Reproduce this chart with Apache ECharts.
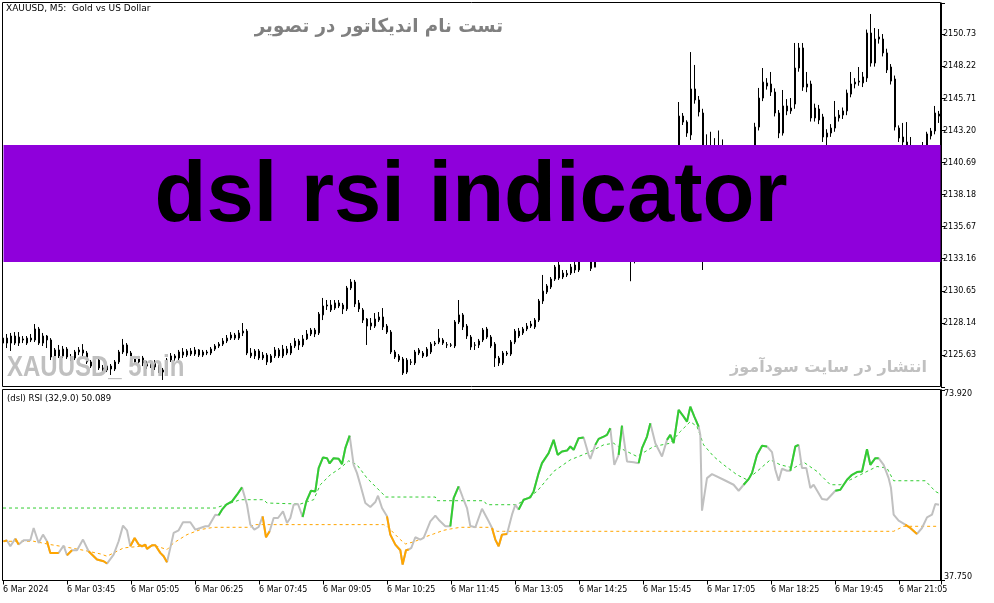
<!DOCTYPE html>
<html><head><meta charset="utf-8">
<script src="https://cdn.jsdelivr.net/npm/echarts@6/dist/echarts.min.js"></script>
<style>html,body{margin:0;padding:0;background:#fff}#c{width:994px;height:603px}</style>
</head><body><div id="c"></div>
<script>
// ---- X axis tick labels (every 16 bars of 5 min) ----
const timeLabels = ['6 Mar 2024','6 Mar 03:45','6 Mar 05:05','6 Mar 06:25','6 Mar 07:45','6 Mar 09:05','6 Mar 10:25','6 Mar 11:45','6 Mar 13:05','6 Mar 14:25','6 Mar 15:45','6 Mar 17:05','6 Mar 18:25','6 Mar 19:45','6 Mar 21:05'];
const priceTicks = ['2125.63','2128.14','2130.65','2133.16','2135.67','2138.18','2140.69','2143.20','2145.71','2148.22','2150.73'];
const rsiTicks = ['73.920','37.750'];

// ---- XAUUSD M5 candles ----
const opens = [
2126.56,2126.95,2126.56,2127.11,2126.56,2126.88,2126.56,2126.95,2126.80,2127.66,
2126.56,2127.11,2126.80,2125.47,2126.02,2125.55,2126.09,2125.47,2125.39,2125.86,
2126.02,2125.78,2125.08,2124.76,2125.23,2124.61,2124.45,2124.76,2124.53,2125.08,
2125.86,2126.41,2125.78,2125.39,2125.08,2125.39,2125.00,2124.76,2125.08,2124.69,
2124.45,2124.29,2125.23,2125.55,2125.39,2125.86,2125.62,2125.94,2125.70,2126.02,
2125.62,2125.86,2125.78,2126.09,2126.33,2126.48,2126.72,2126.95,2127.19,2126.95,
2127.35,2127.50,2125.78,2125.55,2125.94,2125.39,2125.62,2125.08,2125.55,2126.02,
2125.55,2126.09,2125.78,2126.33,2126.72,2126.41,2126.88,2127.27,2127.58,2127.35,
2128.76,2129.46,2129.54,2129.30,2129.70,2129.54,2129.23,2130.87,2131.34,2129.70,
2129.15,2128.44,2128.13,2127.89,2128.36,2128.60,2127.89,2127.42,2125.86,2125.55,
2125.31,2124.29,2125.08,2125.00,2125.78,2125.78,2125.55,2125.86,2126.48,2126.64,
2126.80,2126.41,2126.41,2126.33,2128.21,2128.76,2127.89,2127.03,2126.41,2126.41,
2126.80,2127.66,2127.03,2126.48,2125.39,2125.00,2125.78,2125.70,2126.64,2127.50,
2127.35,2127.66,2127.89,2127.82,2128.36,2129.85,2130.56,2130.95,2131.57,2132.67,
2131.73,2131.89,2132.04,2132.67,2132.28,2133.50,2135.50,2135.00,2132.50,2134.80,
2136.20,2137.50,2138.60,2139.30,2137.00,2138.20,2139.80,2137.60,2137.30,2137.80,
2137.60,2139.00,2140.10,2141.00,2139.80,2138.90,2138.20,2139.50,2139.20,2140.60,
2144.33,2143.86,2142.85,2146.45,2145.59,2144.57,2133.40,2138.60,2138.20,2137.90,
2137.60,2137.30,2137.00,2136.80,2136.40,2136.00,2137.20,2138.50,2141.50,2143.47,
2145.74,2146.92,2146.84,2146.21,2144.57,2143.00,2145.12,2144.73,2145.27,2148.09,
2149.66,2146.84,2146.84,2144.18,2144.88,2144.26,2142.69,2143.00,2143.39,2144.18,
2144.41,2144.73,2146.05,2146.84,2146.99,2146.92,2147.31,2150.83,2148.48,2150.52,
2150.36,2149.27,2148.17,2147.23,2143.39,2142.69,2142.30,2141.30,2141.00,2140.80,
2141.20,2141.00,2142.77,2143.16,2144.49];
const closes = [
2126.95,2126.56,2127.11,2126.56,2127.03,2126.80,2126.95,2126.80,2127.66,2126.56,
2127.11,2126.80,2125.47,2126.02,2125.55,2126.09,2125.47,2125.39,2125.86,2126.02,
2125.78,2125.08,2124.76,2125.23,2124.61,2124.45,2124.76,2124.53,2125.08,2125.86,
2126.41,2125.78,2125.39,2125.08,2125.39,2125.00,2124.76,2125.08,2124.69,2124.45,
2124.29,2125.23,2125.55,2125.39,2125.86,2125.62,2125.94,2125.70,2126.02,2125.62,
2125.86,2125.78,2126.09,2126.33,2126.48,2126.72,2126.95,2127.19,2126.95,2127.35,
2127.50,2125.78,2125.55,2125.94,2125.39,2125.62,2125.08,2125.55,2126.02,2125.55,
2126.09,2125.78,2126.33,2126.72,2126.41,2126.88,2127.27,2127.58,2127.27,2128.83,
2129.46,2129.54,2129.15,2129.70,2129.46,2129.23,2130.87,2131.34,2129.62,2129.23,
2128.36,2127.89,2127.89,2128.44,2128.60,2127.82,2127.42,2125.86,2125.47,2125.23,
2124.22,2125.23,2125.06,2125.86,2126.02,2125.55,2126.09,2126.48,2126.56,2126.95,
2126.56,2126.43,2126.39,2128.21,2128.76,2127.82,2127.11,2126.25,2126.39,2126.72,
2127.58,2127.03,2126.33,2125.39,2125.00,2125.78,2125.70,2126.64,2127.50,2127.11,
2127.66,2127.89,2128.05,2128.36,2129.85,2130.63,2131.03,2131.57,2132.51,2131.65,
2132.04,2132.02,2132.51,2132.28,2133.45,2135.50,2135.00,2132.40,2134.80,2136.20,
2137.50,2138.60,2139.30,2137.00,2138.20,2139.80,2137.60,2137.30,2137.80,2137.60,
2139.00,2140.10,2141.00,2139.80,2138.90,2138.20,2139.50,2139.20,2140.60,2144.33,
2143.86,2143.00,2146.45,2145.59,2144.65,2133.40,2138.60,2138.20,2137.90,2137.60,
2137.30,2137.00,2136.80,2136.40,2136.00,2137.20,2138.50,2141.50,2143.47,2145.74,
2146.99,2146.68,2146.21,2144.57,2143.00,2145.12,2144.73,2144.96,2148.09,2149.66,
2146.60,2146.60,2144.18,2144.96,2144.02,2142.69,2143.00,2143.39,2144.26,2144.41,
2144.73,2146.13,2146.84,2146.99,2147.07,2147.39,2150.83,2148.48,2150.36,2150.36,
2149.27,2147.94,2147.07,2143.47,2142.61,2142.30,2141.30,2141.00,2140.80,2141.20,
2141.00,2142.93,2143.16,2144.57,2144.33];
const lows = [
2126.33,2126.17,2125.94,2126.41,2126.33,2126.56,2126.41,2126.64,2126.64,2126.41,
2126.33,2126.17,2125.23,2125.31,2125.39,2125.39,2125.31,2125.15,2125.23,2125.62,
2125.55,2124.92,2124.61,2124.61,2124.45,2124.22,2124.29,2124.06,2124.37,2124.92,
2125.70,2125.55,2125.15,2124.92,2124.84,2124.76,2124.53,2124.61,2124.45,2124.22,
2123.67,2124.14,2125.08,2125.15,2125.23,2125.39,2125.47,2125.55,2125.55,2125.47,
2125.47,2125.62,2125.62,2125.94,2126.17,2126.33,2126.56,2126.80,2126.80,2126.80,
2127.11,2125.62,2125.39,2125.31,2125.23,2125.23,2124.84,2125.00,2125.39,2125.39,
2125.39,2125.62,2125.62,2126.17,2126.02,2126.25,2126.80,2127.11,2127.03,2127.19,
2128.36,2129.15,2128.99,2129.15,2129.30,2128.83,2129.07,2130.71,2129.38,2128.99,
2128.13,2126.41,2127.58,2127.74,2128.21,2127.58,2127.27,2125.70,2125.31,2125.08,
2124.06,2124.14,2124.84,2124.84,2125.62,2125.39,2125.47,2125.70,2126.33,2126.48,
2126.41,2126.17,2126.25,2126.17,2128.05,2127.58,2126.88,2126.02,2126.02,2126.17,
2126.64,2126.88,2126.17,2124.69,2124.76,2124.84,2125.55,2125.55,2126.48,2126.95,
2127.19,2127.50,2127.74,2127.66,2128.21,2129.62,2130.40,2130.79,2131.42,2131.50,
2131.57,2131.73,2131.89,2132.04,2132.12,2133.20,2134.20,2132.20,2132.50,2134.20,
2135.80,2137.00,2138.20,2136.60,2136.80,2138.00,2137.20,2131.40,2132.80,2137.00,
2137.20,2138.60,2139.60,2139.40,2138.50,2137.80,2138.00,2138.80,2139.00,2140.40,
2143.63,2142.70,2142.46,2145.30,2144.30,2132.28,2133.00,2137.40,2137.20,2136.80,
2136.60,2136.40,2136.00,2135.80,2135.50,2135.80,2137.00,2138.20,2141.00,2143.20,
2145.50,2146.40,2145.90,2144.30,2142.60,2142.80,2144.40,2144.50,2144.90,2147.80,
2146.30,2146.20,2143.90,2143.90,2143.70,2142.30,2141.67,2142.70,2143.10,2143.90,
2144.10,2144.40,2145.80,2146.50,2146.70,2146.60,2147.00,2148.20,2148.20,2150.00,
2149.00,2147.70,2146.80,2143.20,2142.30,2142.00,2140.90,2140.60,2140.30,2140.50,
2140.60,2140.80,2142.50,2142.90,2143.79];
const highs = [
2127.19,2127.27,2127.35,2127.42,2127.42,2127.11,2127.11,2127.27,2128.05,2127.82,
2127.35,2127.19,2126.95,2126.17,2126.41,2126.33,2126.25,2125.70,2126.02,2126.25,
2126.48,2125.94,2125.23,2125.39,2125.39,2124.84,2124.92,2124.92,2125.23,2126.02,
2126.88,2126.56,2125.94,2125.55,2125.55,2125.55,2125.15,2125.23,2125.23,2124.84,
2124.61,2125.39,2125.78,2125.70,2126.02,2126.17,2126.09,2126.17,2126.25,2126.09,
2126.02,2126.02,2126.25,2126.48,2126.64,2126.95,2127.19,2127.42,2127.35,2127.58,
2128.13,2127.66,2126.17,2126.09,2126.09,2125.86,2125.78,2125.70,2126.25,2126.17,
2126.41,2126.33,2126.56,2126.95,2126.88,2127.19,2127.58,2127.74,2127.74,2128.99,
2130.09,2129.93,2129.93,2129.93,2129.93,2129.70,2131.03,2131.57,2131.50,2129.93,
2129.30,2128.52,2128.52,2128.91,2128.99,2129.30,2128.05,2127.58,2126.02,2125.70,
2125.47,2125.39,2125.31,2126.02,2126.17,2125.94,2126.25,2126.64,2126.72,2127.66,
2126.95,2126.64,2126.56,2128.36,2129.93,2128.91,2128.05,2127.19,2126.64,2126.88,
2127.74,2127.82,2127.19,2126.64,2125.55,2125.94,2125.94,2126.80,2127.66,2127.74,
2127.82,2128.13,2128.29,2128.52,2130.01,2131.89,2131.18,2131.73,2132.67,2132.91,
2132.28,2132.28,2132.75,2132.91,2133.69,2136.00,2136.50,2135.40,2135.20,2136.80,
2138.00,2139.20,2140.00,2139.60,2138.60,2140.30,2140.00,2138.20,2138.40,2138.30,
2139.40,2140.60,2141.40,2141.30,2140.20,2139.30,2139.90,2140.10,2141.00,2145.43,
2144.57,2144.00,2149.34,2148.33,2145.90,2144.90,2142.90,2143.10,2142.60,2143.20,
2142.50,2138.20,2137.80,2137.40,2137.00,2137.60,2139.00,2141.90,2143.80,2146.53,
2148.09,2147.30,2147.78,2146.50,2144.80,2146.37,2145.66,2145.74,2150.05,2150.05,
2150.05,2147.78,2147.10,2145.30,2145.20,2144.50,2143.30,2143.70,2145.51,2144.80,
2145.00,2146.40,2147.78,2147.30,2148.17,2147.78,2151.10,2152.32,2151.22,2151.14,
2150.75,2149.60,2148.40,2147.50,2143.60,2143.79,2143.86,2142.69,2141.50,2141.60,
2142.30,2143.10,2143.40,2145.12,2144.73];

// ---- DSL RSI (32, 9.0): vertices (bar index, value) ----
const rsiX = [0.16,1.0,1.83,3.08,3.91,5.16,6.83,7.66,8.91,10.0,
11.0,11.83,13.91,15.16,16.0,17.25,18.5,20.0,21.4,23.5,
25.16,26.0,27.66,28.91,30.0,31.0,31.83,32.91,33.91,34.75,
35.58,36.0,37.25,38.08,39.33,40.16,41.0,41.83,42.66,43.91,
45.0,46.83,48.08,49.33,50.58,51.41,53.08,53.91,54.75,55.83,
57.25,58.5,59.75,61.0,61.83,62.83,63.91,64.91,65.75,66.66,
67.66,68.75,70.0,71.0,71.83,72.66,73.75,74.91,75.83,77.0,
78.08,78.91,80.0,81.0,81.66,82.66,83.91,84.75,85.58,86.66,
87.66,88.5,89.33,90.58,91.83,93.08,93.75,94.75,96.0,96.83,
98.08,99.33,99.91,100.75,101.41,102.08,103.08,104.33,105.16,106.83,
108.08,108.91,110.58,111.83,112.66,113.91,115.0,116.0,116.83,118.08,
119.75,121.41,122.25,123.08,123.91,124.75,126.0,127.25,128.08,128.91,
130.16,131.83,132.66,133.91,134.75,136.41,137.66,138.66,139.75,141.0,
141.83,142.66,143.91,145.16,146.41,146.83,148.08,148.91,150.16,151.0,
151.83,152.83,153.91,154.75,156.0,157.66,158.91,159.75,161.0,161.83,
163.08,164.75,166.0,166.83,167.66,168.91,170.16,171.0,171.83,172.83,
173.91,174.33,174.75,176.0,177.25,180.16,182.66,183.91,185.16,186.41,
187.25,188.5,189.75,191.0,192.25,193.08,193.91,194.75,196.0,196.83,
198.08,198.91,199.75,200.83,201.83,202.66,204.75,206.0,208.08,209.33,
211.0,212.25,213.5,214.75,216.0,216.83,218.08,218.91,220.16,221.41,
222.0,222.66,223.91,225.58,226.83,228.5,229.75,231.0,232.25,233.08,
234.0];
const rsiY = [45.20,45.33,44.25,45.70,44.57,45.39,45.39,47.72,44.88,46.46,
45.20,42.99,42.99,44.38,42.55,43.49,43.49,45.52,43.31,41.73,
41.41,40.97,42.68,45.20,48.17,47.28,44.25,45.83,44.57,44.25,
44.57,43.75,44.44,44.44,42.99,42.36,41.22,43.94,46.78,47.28,
48.80,48.80,47.41,47.72,48.04,48.04,50.25,50.12,51.20,52.14,
52.77,54.04,55.43,52.14,48.36,47.41,47.91,49.93,45.96,47.09,
49.62,49.62,50.88,48.67,49.62,52.14,52.27,49.81,52.77,54.79,
54.67,59.09,61.11,60.98,59.97,60.98,60.85,59.84,62.87,65.27,
59.72,58.14,55.93,52.46,51.70,52.65,53.85,51.51,49.93,46.46,
44.57,43.49,40.78,43.49,43.62,43.94,45.96,45.52,45.83,48.99,
50.06,49.30,48.04,48.04,53.41,55.61,53.41,51.51,48.10,47.85,
51.38,48.99,47.72,45.52,44.25,46.46,46.59,50.25,52.14,51.20,
53.09,53.53,54.67,58.14,60.03,61.93,64.45,61.61,62.24,62.43,
63.19,62.56,64.77,64.89,61.61,60.85,63.50,64.64,65.08,65.40,
66.66,59.72,61.61,67.17,60.35,60.22,60.03,62.87,65.08,67.61,
63.82,61.30,64.45,65.40,63.82,70.13,68.87,67.92,70.76,68.87,
66.98,65.40,51.01,57.19,57.95,56.88,55.93,54.79,55.93,57.00,
58.14,61.61,63.32,63.19,62.12,58.77,56.69,58.96,58.58,58.58,
63.19,63.50,59.09,59.09,55.30,55.93,53.22,53.09,54.79,54.98,
56.88,57.82,58.33,58.46,62.68,59.72,60.98,60.98,59.72,57.19,
55.30,50.25,49.12,48.36,47.72,46.59,47.72,49.74,50.25,52.27,
52.14];
// stretches of the RSI line drawn green (above upper level) / orange (below lower level)
const greenRanges = [[53.91,59.75],[74.91,86.66],[111.83,113.91],[128.91,145.16],[148.08,151.83],[153.91,154.75],[158.91,161.83],[166.0,173.91],[185.16,191.0],[196.83,198.91],[208.08,218.91]];
const orangeRanges = [[0.16,1.0],[3.08,3.91],[11.0,13.91],[16.0,17.25],[21.4,26.0],[31.83,41.0],[64.91,66.66],[96.0,101.41],[122.25,126.0],[225.58,228.5]];
// discontinued signal levels
const upX = [0,53.08,57.66,59.33,65.16,66.0,74.33,77.66,79.33,81.83,84.33,86.41,88.5,91.0,93.5,95.16,95.58,108.08,108.5,120.16,121.0,128.5,128.91,133.5,137.66,141.83,146.0,150.16,152.66,154.33,158.5,162.66,166.83,169.33,171.83,173.5,175.16,177.66,180.16,183.5,186.0,188.5,191.83,194.33,197.66,200.16,203.5,206.83,209.33,211.83,214.33,216.83,218.5,221.0,222.66,230.58,233.08,234.0];
const upY = [51.51,51.51,52.65,53.09,53.09,52.46,52.27,53.09,55.93,57.82,59.09,60.47,59.72,57.19,55.30,54.04,53.60,53.60,52.90,52.90,52.14,52.14,52.46,54.67,58.46,60.66,61.93,63.50,63.82,62.87,61.30,63.19,63.82,66.03,67.92,66.98,63.50,61.30,59.72,57.82,56.88,58.46,60.66,59.72,59.09,60.22,58.46,55.93,55.93,56.88,57.82,58.77,59.40,59.09,56.69,56.69,54.67,54.30];
const loX = [0,7.66,11.83,16.0,20.16,24.33,26.0,27.66,30.16,34.33,38.5,41.0,42.66,46.0,49.33,52.66,61.83,62.66,95.16,96.0,97.66,99.33,100.58,102.66,106.0,107.66,110.16,111.83,114.33,121.83,122.25,123.5,125.16,222.66,223.5,225.16,234.0];
const loY = [45.20,45.20,44.57,44.06,43.49,42.80,42.36,42.99,43.94,44.25,44.25,43.62,44.88,46.46,47.41,47.85,47.85,48.36,48.36,48.04,46.78,45.52,44.69,45.07,46.15,46.59,47.28,47.53,47.85,47.85,47.72,47.09,47.09,47.09,47.41,48.04,48.04];

const FONT = '"DejaVu Sans", Tahoma, sans-serif';
const ARIAL = '"Liberation Sans", Arial, sans-serif';
const candleData = opens.map((o, i) => [i, o, closes[i], lows[i], highs[i]]);
const rsiData = rsiX.map((x, i) => [x, rsiY[i]]);
function segs(ranges) {
  return ranges.map(r => rsiX.map((x, i) => [x, rsiY[i]]).filter(p => p[0] >= r[0] - 1e-6 && p[0] <= r[1] + 1e-6));
}
const lineBase = { type: 'line', xAxisIndex: 1, yAxisIndex: 1, symbol: 'none', silent: true, animation: false };
const series = [
  { type: 'candlestick', xAxisIndex: 0, yAxisIndex: 0, data: candleData, encode: { x: 0, y: [1, 2, 3, 4] },
    barWidth: 2, silent: true, clip: true,
    itemStyle: { color: '#ffffff', color0: '#000000', borderColor: '#000000', borderColor0: '#000000', borderColorDoji: '#000000', borderWidth: 1 } },
  Object.assign({}, lineBase, { z: 2, data: upX.map((x, i) => [x, upY[i]]), lineStyle: { color: '#32CD32', width: 1, type: [3, 3] } }),
  Object.assign({}, lineBase, { z: 2, data: loX.map((x, i) => [x, loY[i]]), lineStyle: { color: '#FFA500', width: 1, type: [3, 3] } }),
  Object.assign({}, lineBase, { z: 3, data: rsiData, lineStyle: { color: '#C0C0C0', width: 2 } })
];
segs(greenRanges).forEach(d => series.push(Object.assign({}, lineBase, { z: 4, data: d, lineStyle: { color: '#32CD32', width: 2 } })));
segs(orangeRanges).forEach(d => series.push(Object.assign({}, lineBase, { z: 4, data: d, lineStyle: { color: '#FFA500', width: 2 } })));

const axisCommon = {
  axisLine: { show: true, onZero: false, lineStyle: { color: '#000', width: 1 } },
  axisTick: { show: true, length: 4, lineStyle: { color: '#000', width: 1 } },
  splitLine: { show: false }
};
const option = {
  animation: false,
  backgroundColor: '#ffffff',
  grid: [
    { left: 3, top: 3, width: 938, height: 384, show: false },
    { left: 3, top: 390, width: 938, height: 190.5, show: false }
  ],
  xAxis: [
    { gridIndex: 0, type: 'value', min: 0, max: 234.5, show: false },
    Object.assign({ gridIndex: 1, type: 'value', min: 0, max: 234.5, interval: 16,
      axisLabel: { show: true, align: 'left', margin: 5, color: '#000', fontSize: 8, fontFamily: FONT,
        formatter: v => { const k = Math.round(v / 16); return (Math.abs(v - k * 16) < 1e-6 && k < timeLabels.length) ? timeLabels[k] : ''; } } }, axisCommon)
  ],
  yAxis: [
    Object.assign({ gridIndex: 0, type: 'value', position: 'right', min: 2123.12, max: 2153.18, interval: 2.51,
      axisLabel: { show: true, margin: 2, color: '#000', fontSize: 8, fontFamily: FONT,
        formatter: v => priceTicks.indexOf(v.toFixed(2)) >= 0 ? v.toFixed(2) : '' } }, axisCommon),
    Object.assign({ gridIndex: 1, type: 'value', position: 'right', min: 37.75, max: 73.92, interval: 36.17,
      axisLabel: { show: true, margin: 3, color: '#000', fontSize: 8, fontFamily: FONT, verticalAlign: 'top',
        formatter: v => v.toFixed(3) === rsiTicks[0] ? rsiTicks[0] : '' } }, axisCommon),
    Object.assign({ gridIndex: 1, type: 'value', position: 'right', min: 37.75, max: 73.92, interval: 36.17,
      axisLabel: { show: true, margin: 3, color: '#000', fontSize: 8, fontFamily: FONT, verticalAlign: 'bottom',
        formatter: v => v.toFixed(3) === rsiTicks[1] ? rsiTicks[1] : '' } }, axisCommon)
  ],
  series: series,
  graphic: [
    { type: 'rect', silent: true, z: 50, shape: { x: 2.5, y: 2.5, width: 938, height: 384 }, style: { fill: 'none', stroke: '#000', lineWidth: 1 } },
    { type: 'rect', silent: true, z: 50, shape: { x: 2.5, y: 389.5, width: 938, height: 191 }, style: { fill: 'none', stroke: '#000', lineWidth: 1 } },
    { type: 'text', silent: true, z: 60, x: 6, y: 4, style: { text: 'XAUUSD, M5:  Gold vs US Dollar', fill: '#000', fontSize: 9, fontFamily: FONT, align: 'left', verticalAlign: 'top' } },
    { type: 'text', silent: true, z: 60, x: 7, y: 394, style: { text: '(dsl) RSI (32,9.0) 50.089', fill: '#000', fontSize: 8.5, fontFamily: FONT, align: 'left', verticalAlign: 'top' } },
    { type: 'text', silent: true, z: 60, x: 503, y: 27, scaleX: 0.96, style: { text: 'تست نام اندیکاتور در تصویر', fill: '#808080', fontSize: 19, fontWeight: 'bold', fontFamily: FONT, align: 'right', verticalAlign: 'middle' } },
    { type: 'rect', silent: true, z: 100, shape: { x: 3.5, y: 145, width: 937, height: 117 }, style: { fill: '#8F00DB' } },
    { type: 'text', silent: true, z: 101, x: 471, y: 197.5, style: { text: 'dsl rsi indicator', fill: '#000', fontSize: 85, fontWeight: 'bold', fontFamily: ARIAL, align: 'center', verticalAlign: 'middle' } },
    { type: 'text', silent: true, z: 101, x: 7, y: 368, scaleX: 0.8, style: { text: 'XAUUSD_ 5min', fill: '#C0C0C0', fontSize: 30, fontWeight: 'bold', fontFamily: ARIAL, align: 'left', verticalAlign: 'middle' } },
    { type: 'text', silent: true, z: 101, x: 927, y: 368, style: { text: 'انتشار در سایت سودآموز', fill: '#C0C0C0', fontSize: 16, fontWeight: 'bold', fontFamily: FONT, align: 'right', verticalAlign: 'middle' } }
  ]
};
const chart = echarts.init(document.getElementById('c'), null, { renderer: 'canvas' });
chart.setOption(option);
</script>
</body></html>
